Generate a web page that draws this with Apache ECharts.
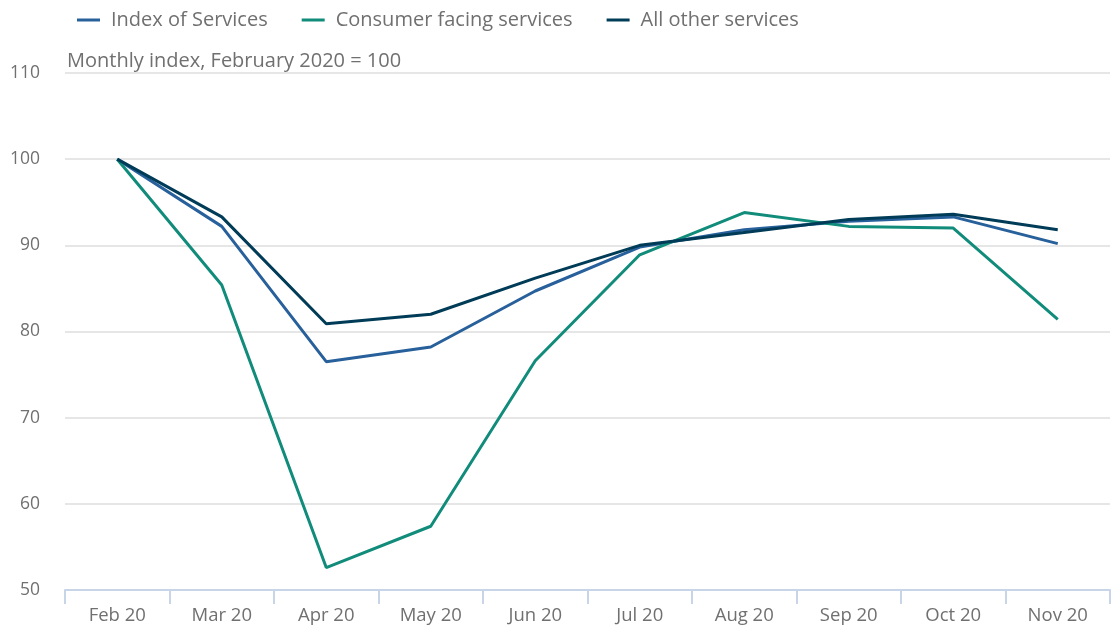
<!DOCTYPE html>
<html>
<head>
<meta charset="utf-8">
<script src="https://cdn.jsdelivr.net/npm/echarts@6/dist/echarts.min.js"></script>
<style>
  html, body { margin: 0; padding: 0; background: #fff; }
  #chart { width: 1111px; height: 629px; }
</style>
</head>
<body>
<div id="chart"></div>
<script>
const months = ['Feb 20', 'Mar 20', 'Apr 20', 'May 20', 'Jun 20', 'Jul 20', 'Aug 20', 'Sep 20', 'Oct 20', 'Nov 20'];
const indexOfServices = [100, 92.2, 76.5, 78.2, 84.7, 89.8, 91.8, 92.8, 93.3, 90.2];
const consumerFacing = [100, 85.4, 52.6, 57.4, 76.6, 88.9, 93.8, 92.2, 92.0, 81.4];
const allOther = [100, 93.3, 80.9, 82.0, 86.2, 90.0, 91.5, 93.0, 93.6, 91.8];

const chart = echarts.init(document.getElementById('chart'));
const font = '"Open Sans", sans-serif';

const line = (name, data, color) => ({
  name: name,
  type: 'line',
  data: data,
  symbol: 'none',
  lineStyle: { color: color, width: 3 },
  itemStyle: { color: color }
});

chart.setOption({
  animation: false,
  textStyle: { fontFamily: font },
  title: {
    text: 'Monthly index, February 2020 = 100',
    left: 62,
    top: 46,
    textStyle: { fontFamily: font, fontSize: 20, fontWeight: 'normal', color: '#707070' }
  },
  legend: {
    left: 72,
    top: 5,
    icon: 'rect',
    itemWidth: 23,
    itemHeight: 3,
    itemGap: 34,
    textStyle: { fontFamily: font, fontSize: 20, color: '#707070', padding: [0, 0, 0, 6] }
  },
  grid: { left: 65, right: 1, top: 73, bottom: 39, containLabel: false },
  xAxis: {
    type: 'category',
    data: months,
    boundaryGap: true,
    axisLine: { lineStyle: { color: '#c8d4e8', width: 2 } },
    axisTick: { show: true, length: 14, lineStyle: { color: '#c8d4e8', width: 2 } },
    axisLabel: { fontFamily: font, fontSize: 18.5, color: '#707070', margin: 16 }
  },
  yAxis: {
    type: 'value',
    min: 50,
    max: 110,
    interval: 10,
    axisLine: { show: false },
    axisTick: { show: false },
    axisLabel: { fontFamily: font, fontSize: 17.5, color: '#707070', margin: 25 },
    splitLine: { lineStyle: { color: '#e6e6e6', width: 2 } }
  },
  series: [
    line('Index of Services', indexOfServices, '#27609a'),
    line('Consumer facing services', consumerFacing, '#118c7b'),
    line('All other services', allOther, '#003c57')
  ]
});
</script>
</body>
</html>
